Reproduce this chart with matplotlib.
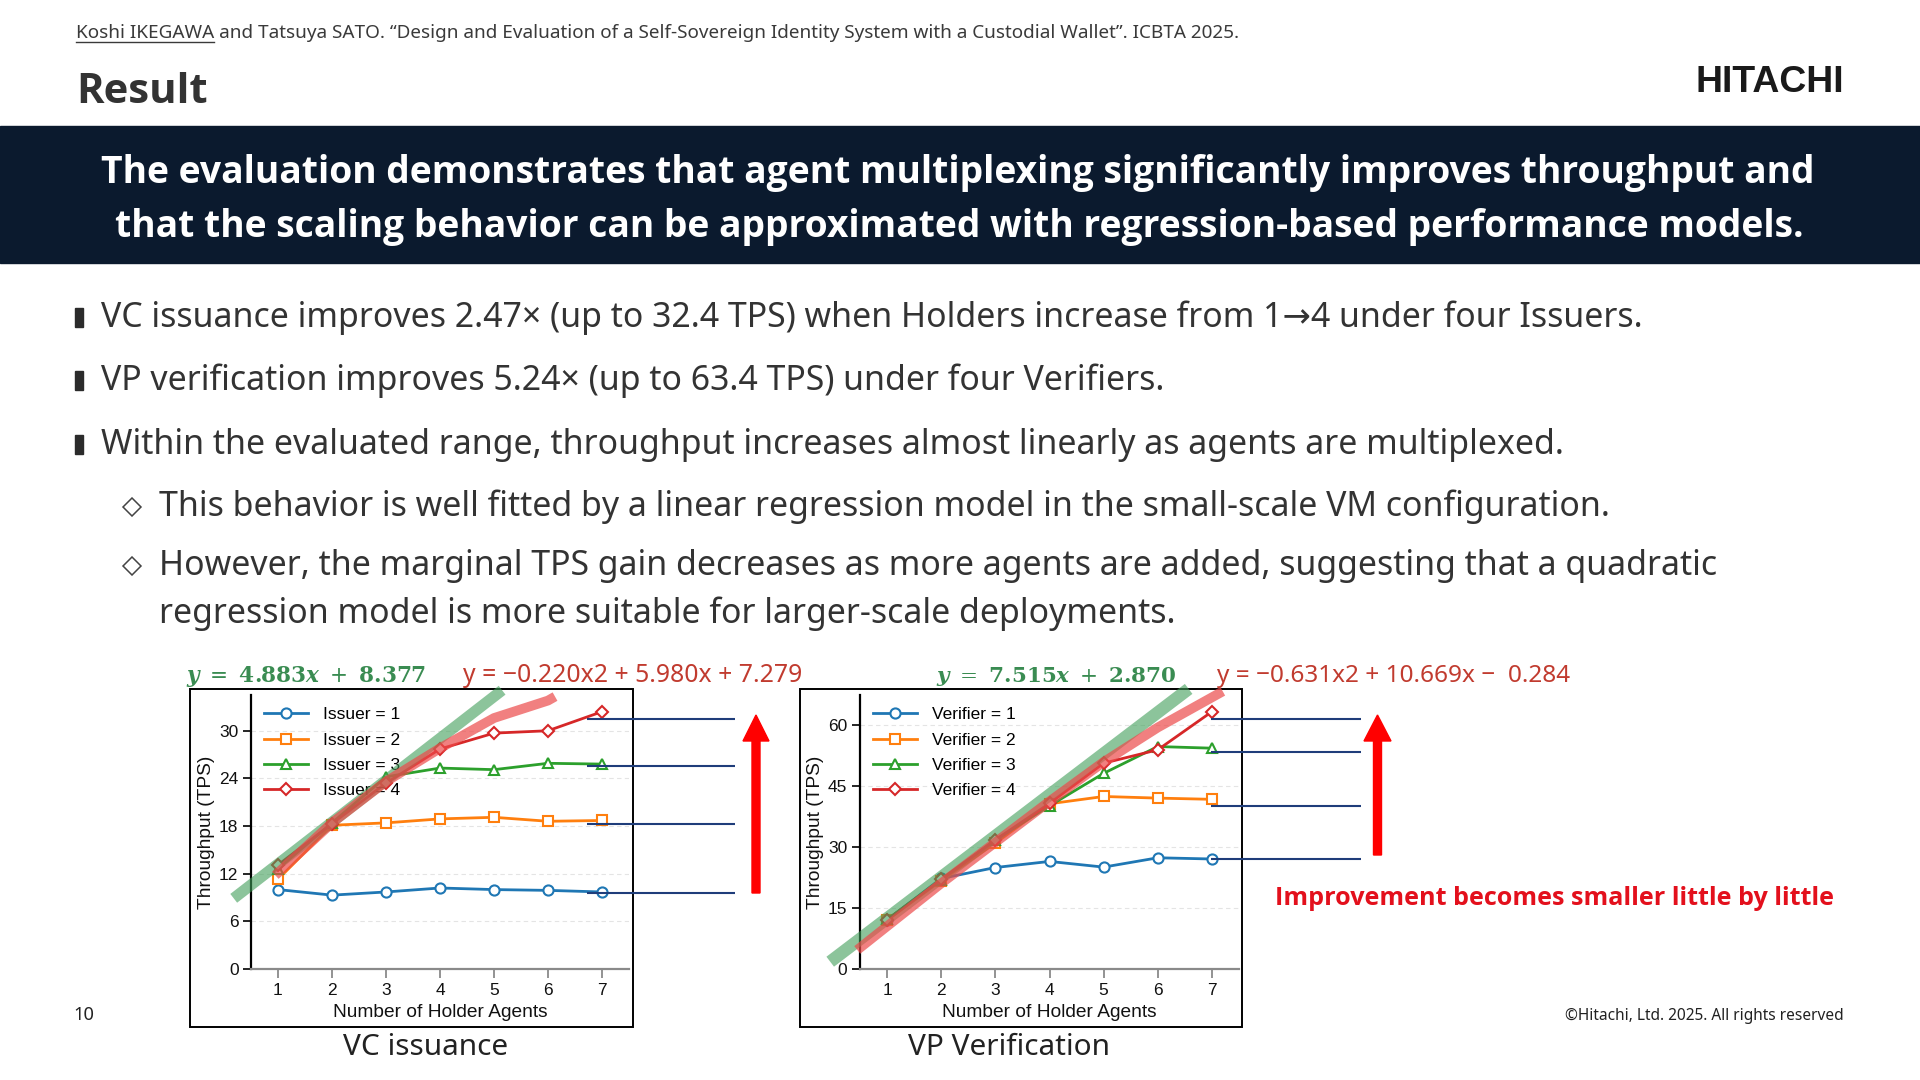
import matplotlib
matplotlib.use('Agg')
import matplotlib.pyplot as plt
from matplotlib.patches import Rectangle, FancyArrow

plt.rcParams['font.family'] = ['Noto Sans', 'DejaVu Sans']
plt.rcParams['mathtext.fontset'] = 'dejavuserif'

# ---------------- data ----------------
holders = [1, 2, 3, 4, 5, 6, 7]

issuer_labels = ['Issuer = 1', 'Issuer = 2', 'Issuer = 3', 'Issuer = 4']
issuer_1 = [10.0, 9.3, 9.7, 10.2, 10.0, 9.9, 9.7]
issuer_2 = [11.3, 18.1, 18.4, 18.9, 19.1, 18.6, 18.7]
issuer_3 = [12.6, 18.4, 24.2, 25.3, 25.1, 25.9, 25.8]
issuer_4 = [13.1, 18.3, 23.4, 27.7, 29.7, 30.0, 32.4]

verifier_labels = ['Verifier = 1', 'Verifier = 2', 'Verifier = 3', 'Verifier = 4']
verifier_1 = [12.1, 22.3, 25.0, 26.5, 25.1, 27.4, 27.1]
verifier_2 = [12.0, 21.8, 31.0, 40.7, 42.5, 42.1, 41.8]
verifier_3 = [12.2, 22.0, 31.8, 40.2, 48.2, 54.8, 54.4]
verifier_4 = [12.1, 22.1, 31.8, 40.8, 50.7, 54.0, 63.4]

vc_yticks = [0, 6, 12, 18, 24, 30]
vp_yticks = [0, 15, 30, 45, 60]

# hand-drawn regression overlays
vc_lin_x = [0.18, 5.15]
vc_lin_y = [8.9, 35.1]
vc_quad_x = [0.95, 2, 3, 4, 5, 6, 6.13]
vc_quad_y = [11.8, 18.4, 23.6, 27.8, 31.6, 33.8, 34.3]
vp_lin_x = [-0.05, 6.57]
vp_lin_y = [1.8, 69.0]
vp_quad_x = [0.45, 2, 4, 5, 6, 7.2]
vp_quad_y = [4.7, 21.1, 41.3, 51.0, 59.5, 68.4]

# saturation levels (navy guide lines)
vc_levels = [9.6, 18.3, 25.5, 31.5]
vc_level_x = [6.72, 9.47]
vp_levels = [27.1, 40.1, 53.4, 61.6]
vp_level_x = [6.98, 9.75]

vc_lin_eq = r'$\mathbfit{y}\ =\ \mathbf{4.883}\mathbfit{x}\ +\ \mathbf{8.377}$'
vc_lin_eq_fb = r'$\mathit{y}\ =\ \mathbf{4.883}\mathit{x}\ +\ \mathbf{8.377}$'
vc_quad_eq = 'y = \u22120.220x2 + 5.980x + 7.279'
vp_lin_eq = r'$\mathbfit{y}\ =\ \mathbf{7.515}\mathbfit{x}\ +\ \mathbf{2.870}$'
vp_lin_eq_fb = r'$\mathit{y}\ =\ \mathbf{7.515}\mathit{x}\ +\ \mathbf{2.870}$'
vp_quad_eq = 'y = \u22120.631x2 + 10.669x \u2212  0.284'

citation = ('Koshi IKEGAWA and Tatsuya SATO. \u201cDesign and Evaluation of a Self-Sovereign '
            'Identity System with a Custodial Wallet\u201d. ICBTA 2025.')
banner = ['The evaluation demonstrates that agent multiplexing significantly improves throughput and',
          'that the scaling behavior can be approximated with regression-based performance models.']
main_bullets = ['VC issuance improves 2.47\u00d7 (up to 32.4 TPS) when Holders increase from 1\u21924 under four Issuers.',
                'VP verification improves 5.24\u00d7 (up to 63.4 TPS) under four Verifiers.',
                'Within the evaluated range, throughput increases almost linearly as agents are multiplexed.']
sub_bullets = ['This behavior is well fitted by a linear regression model in the small-scale VM configuration.',
               'However, the marginal TPS gain decreases as more agents are added, suggesting that a quadratic',
               'regression model is more suitable for larger-scale deployments.']

# ---------------- figure ----------------
W, H = 1920, 1080
fig = plt.figure(figsize=(W / 100, H / 100), dpi=100)
fig.patch.set_facecolor('white')
bg = fig.add_axes([0, 0, 1, 1])
bg.set_zorder(0)
bg.set_xlim(0, W)
bg.set_ylim(H, 0)
bg.axis('off')
renderer = fig.canvas.get_renderer()

SANS = ['Noto Sans', 'DejaVu Sans']
BOLD = ['Open Sans', 'Lato', 'DejaVu Sans']
CHART_FONT = ['Liberation Sans', 'DejaVu Sans']
TXT = '#333333'


def fit_text(x, y, s, width, size0=20, fallback=None, **kw):
    t = bg.text(x, y, s, fontsize=size0, **kw)
    try:
        w = t.get_window_extent(renderer=renderer).width
    except Exception:
        t.set_text(fallback)
        w = t.get_window_extent(renderer=renderer).width
    t.set_fontsize(size0 * width / w)
    return t


# header
ct = fit_text(76, 38, citation, 1161, 12, va='baseline', ha='left', color='#3a3a3a', family=SANS)
tmp = bg.text(76, 38, 'Koshi IKEGAWA', fontsize=ct.get_fontsize(), family=SANS, alpha=0)
uw = tmp.get_window_extent(renderer=renderer).width
bg.plot([76, 76 + uw], [41.5, 41.5], color='#3a3a3a', lw=1.0)
fit_text(76, 103, 'Result', 132, 30, va='baseline', ha='left', color=TXT, weight='bold', family=BOLD)
fit_text(1695, 92, 'HITACHI', 149, 24, va='baseline', ha='left', color='#1a1a1a', weight='bold',
         family=['Liberation Sans', 'DejaVu Sans'])

# banner
bg.add_patch(Rectangle((0, 126), W, 137, color='#0b1a2e', zorder=1))
b1 = fit_text(958, 183, banner[0], 1720, 26, ha='center', va='baseline', color='white',
              weight='bold', family=BOLD, zorder=2)
bg.text(959, 237, banner[1], fontsize=b1.get_fontsize(), ha='center', va='baseline',
        color='white', weight='bold', family=BOLD, zorder=2)

# bullets
m1 = fit_text(101, 327, main_bullets[0], 1541, 22, ha='left', va='baseline', color=TXT, family=SANS)
bsize = m1.get_fontsize()
main_y = [327, 390, 454]
for i, (yy, s) in enumerate(zip(main_y, main_bullets)):
    if i > 0:
        bg.text(101, yy, s, fontsize=bsize, ha='left', va='baseline', color=TXT, family=SANS)
    bg.add_patch(Rectangle((75, yy - 19), 8, 19, color='#2b2b2b'))
sub_y = [516, 575, 623]
for yy, s in zip(sub_y, sub_bullets):
    bg.text(159, yy, s, fontsize=bsize, ha='left', va='baseline', color=TXT, family=SANS)
for yy in sub_y[:2]:
    bg.plot([131.5], [yy - 9], marker='D', ms=9, mfc='white', mec='#444444', mew=1.1)

# chart boxes
bg.add_patch(Rectangle((190, 689), 443, 338, fill=False, ec='black', lw=1.4, zorder=1))
bg.add_patch(Rectangle((800, 689), 442, 338, fill=False, ec='black', lw=1.4, zorder=1))

series_colors = ['#1f77b4', '#ff7f0e', '#2ca02c', '#d62728']
series_markers = ['o', 's', '^', 'D']
marker_sizes = [7.3, 7.0, 7.8, 6.6]


def draw_chart(rect_px, series, labels, yticks, ylim, lin_x, lin_y, quad_x, quad_y,
               levels, level_x, lin_w):
    l, t, r, b = rect_px
    ax = fig.add_axes([l / W, 1 - b / H, (r - l) / W, (b - t) / H])
    ax.set_zorder(2)
    ax.patch.set_alpha(0)
    for vals, lab, m, c, ms in zip(series, labels, series_markers, series_colors, marker_sizes):
        ax.plot(holders, vals, color=c, marker=m, ms=ms, mfc='white', mec=c, mew=1.5,
                lw=2.0, label=lab, zorder=3)
    ax.set_xlim(0.5, 7.5)
    ax.set_ylim(*ylim)
    ax.set_xticks(holders)
    ax.set_yticks(yticks)
    for sp in ('top', 'right'):
        ax.spines[sp].set_visible(False)
    ax.spines['left'].set_color('black')
    ax.spines['left'].set_linewidth(1.6)
    ax.spines['bottom'].set_color('#8a8a8a')
    ax.spines['bottom'].set_linewidth(1.6)
    ax.tick_params(axis='y', length=6, width=1.2, color='black', pad=3, labelsize=12.5)
    ax.tick_params(axis='x', length=6.5, width=1.2, color='#808080', pad=3.5, labelsize=12.5)
    for lab in ax.get_xticklabels() + ax.get_yticklabels():
        lab.set_family(CHART_FONT)
        lab.set_color('#111111')
    ax.grid(axis='y', color='#e4e4e4', linestyle=(0, (4, 3)), linewidth=0.8)
    ax.set_axisbelow(True)
    ax.set_ylabel('Throughput (TPS)', fontsize=13.8, family=CHART_FONT, labelpad=3, color='#111111')
    ax.set_xlabel('Number of Holder Agents', fontsize=13.8, family=CHART_FONT, labelpad=4.5,
                  color='#111111')
    leg = ax.legend(loc='upper left', bbox_to_anchor=(0.035, 0.955), frameon=False,
                    prop={'family': CHART_FONT, 'size': 12.5}, handlelength=2.5,
                    handletextpad=0.9, labelspacing=0.58, borderpad=0, borderaxespad=0)
    leg.set_zorder(4)
    ax.plot(lin_x, lin_y, color='#3f9e58', alpha=0.6, lw=lin_w, solid_capstyle='butt',
            clip_on=False, zorder=5)
    ax.plot(quad_x, quad_y, color='#ec4a4a', alpha=0.7, lw=7, solid_capstyle='butt',
            solid_joinstyle='round', clip_on=False, zorder=6)
    hl = ax.hlines(levels, level_x[0], level_x[1], colors='#1f3d7a', lw=1.5, zorder=7)
    hl.set_clip_on(False)
    return ax


draw_chart((251, 695, 629, 969), [issuer_1, issuer_2, issuer_3, issuer_4], issuer_labels,
           vc_yticks, (0, 34.5), vc_lin_x, vc_lin_y, vc_quad_x, vc_quad_y,
           vc_levels, vc_level_x, 8)
draw_chart((860, 695, 1239, 969), [verifier_1, verifier_2, verifier_3, verifier_4], verifier_labels,
           vp_yticks, (0, 67.5), vp_lin_x, vp_lin_y, vp_quad_x, vp_quad_y,
           vp_levels, vp_level_x, 9)

# equations
GREEN = '#3a8c52'
EQRED = '#c13b2f'
fit_text(186, 682, vc_lin_eq, 241, 16, fallback=vc_lin_eq_fb, ha='left', va='baseline', color=GREEN)
fit_text(463, 682, vc_quad_eq, 339, 16, ha='left', va='baseline', color=EQRED, family=SANS)
fit_text(936, 682, vp_lin_eq, 240, 16, fallback=vp_lin_eq_fb, ha='left', va='baseline', color=GREEN)
fit_text(1217, 682, vp_quad_eq, 353, 16, ha='left', va='baseline', color=EQRED, family=SANS)

# arrows
bg.add_patch(FancyArrow(756, 893, 0, -(893 - 715), width=8, head_width=26, head_length=26,
                        length_includes_head=True, color='#ff0000', zorder=3))
bg.add_patch(FancyArrow(1377.5, 855, 0, -(855 - 715), width=8, head_width=27, head_length=26,
                        length_includes_head=True, color='#ff0000', zorder=3))
fit_text(1275, 905, 'Improvement becomes smaller little by little', 558, 20, ha='left',
         va='baseline', color='#e3101c', weight='bold', family=BOLD)

# captions & footer
c1 = fit_text(426, 1055, 'VC issuance', 165, 18, ha='center', va='baseline', color='#222222', family=SANS)
bg.text(1009, 1055, 'VP Verification', fontsize=c1.get_fontsize(), ha='center', va='baseline',
        color='#222222', family=SANS)
fit_text(73, 1020, '10', 21, 12, ha='left', va='baseline', color='#222222', family=SANS)
fit_text(1844, 1020, '\u00a9Hitachi, Ltd. 2025. All rights reserved', 279, 11, ha='right',
         va='baseline', color='#222222', family=SANS)

fig.savefig('out.png', dpi=100, facecolor='white')
